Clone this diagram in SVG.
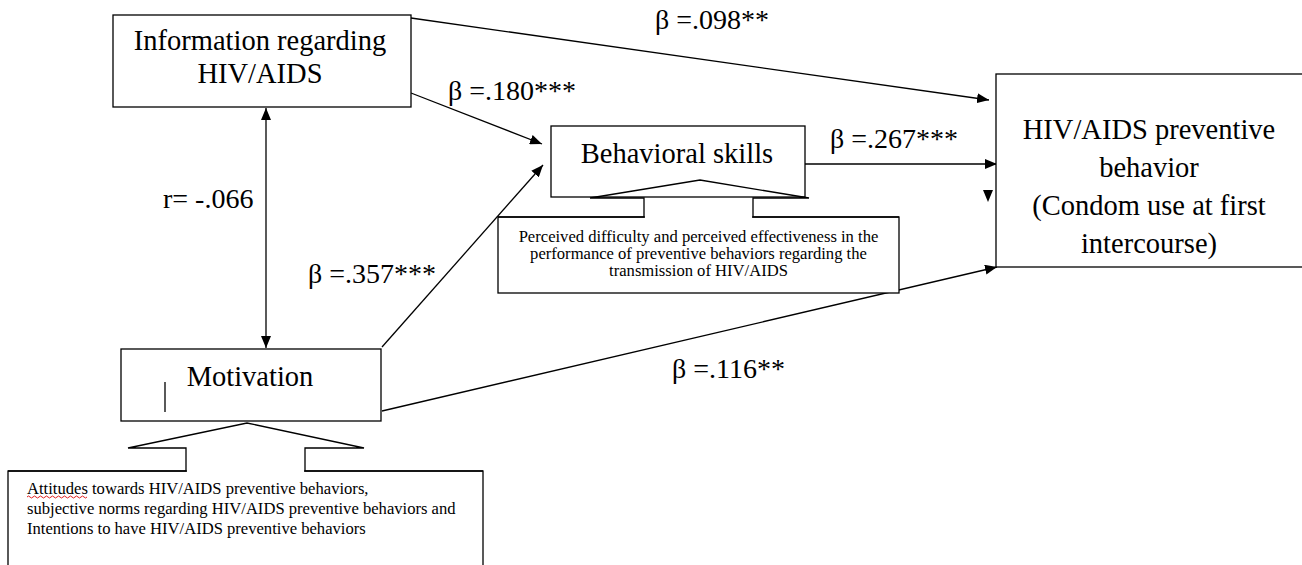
<svg xmlns="http://www.w3.org/2000/svg" width="1302" height="565" viewBox="0 0 1302 565">
  <defs>
    <marker id="arrow" viewBox="0 0 12 10" refX="12" refY="5" markerWidth="12" markerHeight="10" markerUnits="userSpaceOnUse" orient="auto-start-reverse">
      <path d="M0,0 L12,5 L0,10 z" fill="#000"/>
    </marker>
    <style>
      .box { fill: #fff; stroke: #000; stroke-width: 1.3; }
      .ln { fill: none; stroke: #000; stroke-width: 1.3; }
      text { font-family: "Liberation Serif", Tinos, "Times New Roman", "DejaVu Serif", serif; fill: #000; }
      .big { font-size: 28.5px; }
      .lbl { font-size: 28px; }
      .sm { font-size: 16.6px; }
      .md { font-size: 16.6px; }
    </style>
  </defs>
  <rect width="1302" height="565" fill="#fff"/>

  <!-- connectors -->
  <g id="connectors" class="ln">
    <line x1="411" y1="18" x2="989" y2="100" marker-end="url(#arrow)"/>
    <line x1="411" y1="93" x2="542" y2="144" marker-end="url(#arrow)"/>
    <line x1="382" y1="347" x2="543" y2="165" marker-end="url(#arrow)"/>
    <line x1="805" y1="164" x2="997" y2="164" marker-end="url(#arrow)"/>
    <line x1="382" y1="411" x2="997" y2="267" marker-end="url(#arrow)"/>
    <line x1="266" y1="108" x2="266" y2="348" marker-start="url(#arrow)" marker-end="url(#arrow)"/>
    <path d="M983,190 L993,190 L988,202 z" fill="#000" stroke="none"/>
  </g>

  <!-- path coefficients -->
  <g id="labels">
    <text class="lbl" x="655" y="29">β =.098**</text>
    <text class="lbl" x="448" y="100">β =.180***</text>
    <text class="lbl" x="830" y="148">β =.267***</text>
    <text class="lbl" x="163" y="208">r= -.066</text>
    <text class="lbl" x="308" y="283">β =.357***</text>
    <text class="lbl" x="672" y="378">β =.116**</text>
  </g>

  <!-- Information -->
  <g id="information">
    <rect class="box" x="113" y="15" width="298" height="92"/>
    <text class="big" x="260" y="50" text-anchor="middle">Information regarding</text>
    <text class="big" x="260" y="83" text-anchor="middle">HIV/AIDS</text>
  </g>

  <!-- Behavioral skills with its callout -->
  <g id="behavioral-skills">
    <rect class="box" x="551" y="126" width="254" height="71"/>
    <text class="big" x="677" y="163" text-anchor="middle">Behavioral skills</text>
  </g>
  <g id="behavioral-skills-note">
    <rect class="box" x="498" y="217" width="401" height="76"/>
    <path class="ln" d="M498,217 L644,217 L644,198 L590,198 L700,180 L809,198 L753,198 L753,217 L899,217"/>
    <rect x="645" y="199" width="107" height="20" fill="#fff"/>
    <text class="sm" x="698.5" y="242" text-anchor="middle">Perceived difficulty and perceived effectiveness in the</text>
    <text class="sm" x="698.5" y="259" text-anchor="middle">performance of preventive behaviors regarding the</text>
    <text class="sm" x="698.5" y="276" text-anchor="middle">transmission of HIV/AIDS</text>
  </g>

  <!-- Motivation with its callout -->
  <g id="motivation">
    <rect class="box" x="121" y="349" width="260" height="72"/>
    <text class="big" x="250" y="386" text-anchor="middle">Motivation</text>
    <line class="ln" x1="165" y1="382" x2="165" y2="412"/>
  </g>
  <g id="motivation-note">
    <rect class="box" x="8" y="471" width="475" height="110"/>
    <path class="ln" d="M8,471 L186,471 L186,448 L128,448 L247,423 L364,448 L305,448 L305,471 L483,471"/>
    <rect x="187" y="449" width="117" height="23" fill="#fff"/>
    <text class="md" x="27" y="494">Attitudes towards HIV/AIDS preventive behaviors,</text>
    <text class="md" x="27" y="514">subjective norms regarding HIV/AIDS preventive behaviors and</text>
    <text class="md" x="27" y="534">Intentions to have HIV/AIDS preventive behaviors</text>
    <path d="M27,497 q1.5,-2 3,0 t3,0 t3,0 t3,0 t3,0 t3,0 t3,0 t3,0 t3,0 t3,0 t3,0 t3,0 t3,0 t3,0 t3,0 t3,0 t3,0 t3,0 t3,0 t3,0" fill="none" stroke="#e02020" stroke-width="1"/>
  </g>

  <!-- Outcome -->
  <g id="outcome">
    <rect class="box" x="996" y="74" width="320" height="193"/>
    <text class="big" x="1149" y="139" text-anchor="middle">HIV/AIDS preventive</text>
    <text class="big" x="1149" y="177" text-anchor="middle">behavior</text>
    <text class="big" x="1149" y="215" text-anchor="middle">(Condom use at first</text>
    <text class="big" x="1149" y="253" text-anchor="middle">intercourse)</text>
  </g>
</svg>
